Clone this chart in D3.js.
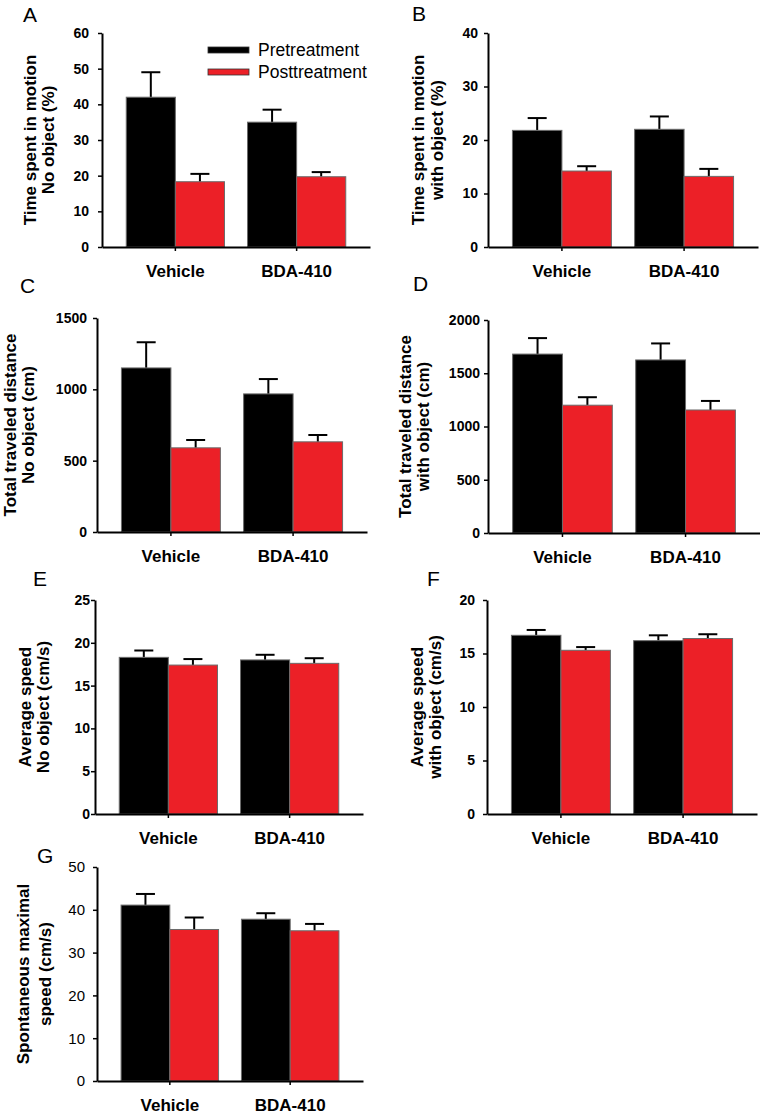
<!DOCTYPE html>
<html>
<head>
<meta charset="utf-8">
<script src="https://cdnjs.cloudflare.com/ajax/libs/d3/7.8.5/d3.min.js"></script>
<style>
body { margin: 0; background: #fff; }
svg, svg text { font-family: "Liberation Sans", Arial, sans-serif; }
</style>
</head>
<body>
<script>
var groups = ["Vehicle", "BDA-410"];
var phases = ["Pretreatment", "Posttreatment"];
var colors = ["#000000", "#ec2027"];

// mean values, rows = groups, cols = phases ; *Err = SEM (upper bar only)
var motionNoObj = [[42, 18.3], [35, 19.7]];
var motionNoObjErr = [[7, 2.2], [3.5, 1.3]];
var motionObj = [[21.8, 14.2], [22.0, 13.2]];
var motionObjErr = [[2.3, 0.9], [2.4, 1.4]];
var distNoObj = [[1150, 590], [968, 632]];
var distNoObjErr = [[180, 55], [104, 48]];
var distObj = [[1680, 1200], [1625, 1155]];
var distObjErr = [[150, 75], [155, 85]];
var speedNoObj = [[18.3, 17.4], [18.0, 17.6]];
var speedNoObjErr = [[0.8, 0.7], [0.6, 0.6]];
var speedObj = [[16.7, 15.3], [16.2, 16.4]];
var speedObjErr = [[0.5, 0.3], [0.5, 0.4]];
var maxSpeed = [[41.1, 35.4], [37.8, 35.1]];
var maxSpeedErr = [[2.6, 2.8], [1.4, 1.6]];

var yTicks = {
  A: [0, 10, 20, 30, 40, 50, 60],
  B: [0, 10, 20, 30, 40],
  C: [0, 500, 1000, 1500],
  D: [0, 500, 1000, 1500, 2000],
  E: [0, 5, 10, 15, 20, 25],
  F: [0, 5, 10, 15, 20],
  G: [0, 10, 20, 30, 40, 50]
};

// layout of each panel (pixels)
var panels = [
  {id: "A", v: motionNoObj, e: motionNoObjErr, title: ["Time spent in motion", "No object (%)"],
   left: 102, right: 370, top: 33, bottom: 247, gap: 13, tx: [30, 48], lx: 23, ly: 22, legend: true},
  {id: "B", v: motionObj, e: motionObjErr, title: ["Time spent in motion", "with object (%)"],
   left: 488, right: 758, top: 33, bottom: 247, gap: 10, tx: [418, 437], lx: 412, ly: 21},
  {id: "C", v: distNoObj, e: distNoObjErr, title: ["Total traveled distance", "No object (cm)"],
   left: 97, right: 367, top: 318, bottom: 532, gap: 10, tx: [10, 28], lx: 20, ly: 293},
  {id: "D", v: distObj, e: distObjErr, title: ["Total traveled distance", "with object (cm)"],
   left: 488, right: 760, top: 320, bottom: 533, gap: 8, tx: [405, 423], lx: 413, ly: 291},
  {id: "E", v: speedNoObj, e: speedNoObjErr, title: ["Average speed", "No object (cm/s)"],
   left: 95, right: 363, top: 600, bottom: 814, gap: 5, tx: [25, 43], lx: 33, ly: 586},
  {id: "F", v: speedObj, e: speedObjErr, title: ["Average speed", "with object (cm/s)"],
   left: 487, right: 757, top: 600, bottom: 814, gap: 12, tx: [417, 435], lx: 427, ly: 586},
  {id: "G", v: maxSpeed, e: maxSpeedErr, title: ["Spontaneous maximal", "speed (cm/s)"],
   left: 97, right: 363, top: 867, bottom: 1081, gap: 12, tx: [23, 45], lx: 37, ly: 863, thinTicks: true}
];

var FONT = "'Liberation Sans', Arial, sans-serif";

var svg = d3.select("body").append("svg")
  .attr("width", 760).attr("height", 1114);

panels.forEach(function(p) {
  var g = svg.append("g").attr("id", "panel_" + p.id);
  var ticks = yTicks[p.id];

  var y = d3.scaleLinear().domain([0, ticks[ticks.length - 1]]).range([p.bottom, p.top]);
  var x = d3.scaleBand().domain(groups).range([p.left, p.right])
    .paddingInner(0.19).paddingOuter(0.2);
  var xs = d3.scaleBand().domain(phases).range([0, x.bandwidth()]);

  // flatten to one record per bar
  var rows = [];
  groups.forEach(function(grp, i) {
    phases.forEach(function(ph, j) {
      rows.push({group: grp, phase: ph, k: j, value: p.v[i][j], err: p.e[i][j]});
    });
  });

  function cx(d) { return x(d.group) + xs(d.phase) + xs.bandwidth() / 2; }

  // error bars (drawn before bars so only the upper half shows)
  var eb = g.selectAll(".err").data(rows).enter().append("g").attr("class", "err")
    .attr("stroke", "#000").attr("stroke-width", 2);
  eb.append("line")
    .attr("x1", cx).attr("x2", cx)
    .attr("y1", function(d) { return y(d.value); })
    .attr("y2", function(d) { return y(d.value + d.err); });
  eb.append("line")
    .attr("x1", function(d) { return cx(d) - 9.5; })
    .attr("x2", function(d) { return cx(d) + 9.5; })
    .attr("y1", function(d) { return y(d.value + d.err); })
    .attr("y2", function(d) { return y(d.value + d.err); });

  g.selectAll(".bar").data(rows).enter().append("rect").attr("class", "bar")
    .attr("x", function(d) { return x(d.group) + xs(d.phase); })
    .attr("width", xs.bandwidth())
    .attr("y", function(d) { return y(d.value); })
    .attr("height", function(d) { return y(0) - y(d.value); })
    .attr("fill", function(d) { return colors[d.k]; })
    .attr("stroke", "#6b6b6b").attr("stroke-width", 1);

  // y axis
  var ya = g.append("g").attr("transform", "translate(" + p.left + ",0)")
    .call(d3.axisLeft(y).tickValues(ticks).tickFormat(d3.format("d"))
      .tickSize(4).tickSizeOuter(0).tickPadding(p.gap - 4));
  ya.attr("font-family", FONT);
  ya.select(".domain").attr("stroke-width", 2);
  ya.selectAll(".tick line").attr("stroke-width", 1.5);
  ya.selectAll("text").attr("fill", "#000")
    .style("font-size", p.thinTicks ? "15px" : "14px")
    .style("font-weight", p.thinTicks ? "normal" : "bold");

  // x axis
  var xa = g.append("g").attr("transform", "translate(0," + p.bottom + ")")
    .call(d3.axisBottom(x).tickSize(4).tickSizeOuter(0).tickPadding(14));
  xa.attr("font-family", FONT);
  xa.select(".domain").attr("stroke-width", 2);
  xa.selectAll(".tick line").attr("stroke-width", 1.5);
  xa.selectAll("text").attr("fill", "#000").style("font-size", "17px").style("font-weight", "bold");

  // rotated two-line y title
  var cy = (p.top + p.bottom) / 2;
  p.title.forEach(function(t, k) {
    g.append("text")
      .attr("transform", "translate(" + p.tx[k] + "," + cy + ") rotate(-90)")
      .attr("text-anchor", "middle").attr("dy", "0.35em")
      .style("font-size", "17px").style("font-weight", "bold")
      .text(t);
  });

  // panel letter
  g.append("text").attr("x", p.lx).attr("y", p.ly)
    .style("font-size", "21px").text(p.id);

  if (p.legend) {
    var lg = g.append("g").attr("class", "legend");
    phases.forEach(function(ph, j) {
      lg.append("rect").attr("x", 208).attr("y", 47 + j * 22).attr("width", 41).attr("height", 6)
        .attr("fill", colors[j]).attr("stroke", "#333").attr("stroke-width", 0.8);
      lg.append("text").attr("x", 258).attr("y", 50 + j * 22).attr("dy", "0.35em")
        .style("font-size", "17.5px").text(ph);
    });
  }
});
</script>
</body>
</html>
